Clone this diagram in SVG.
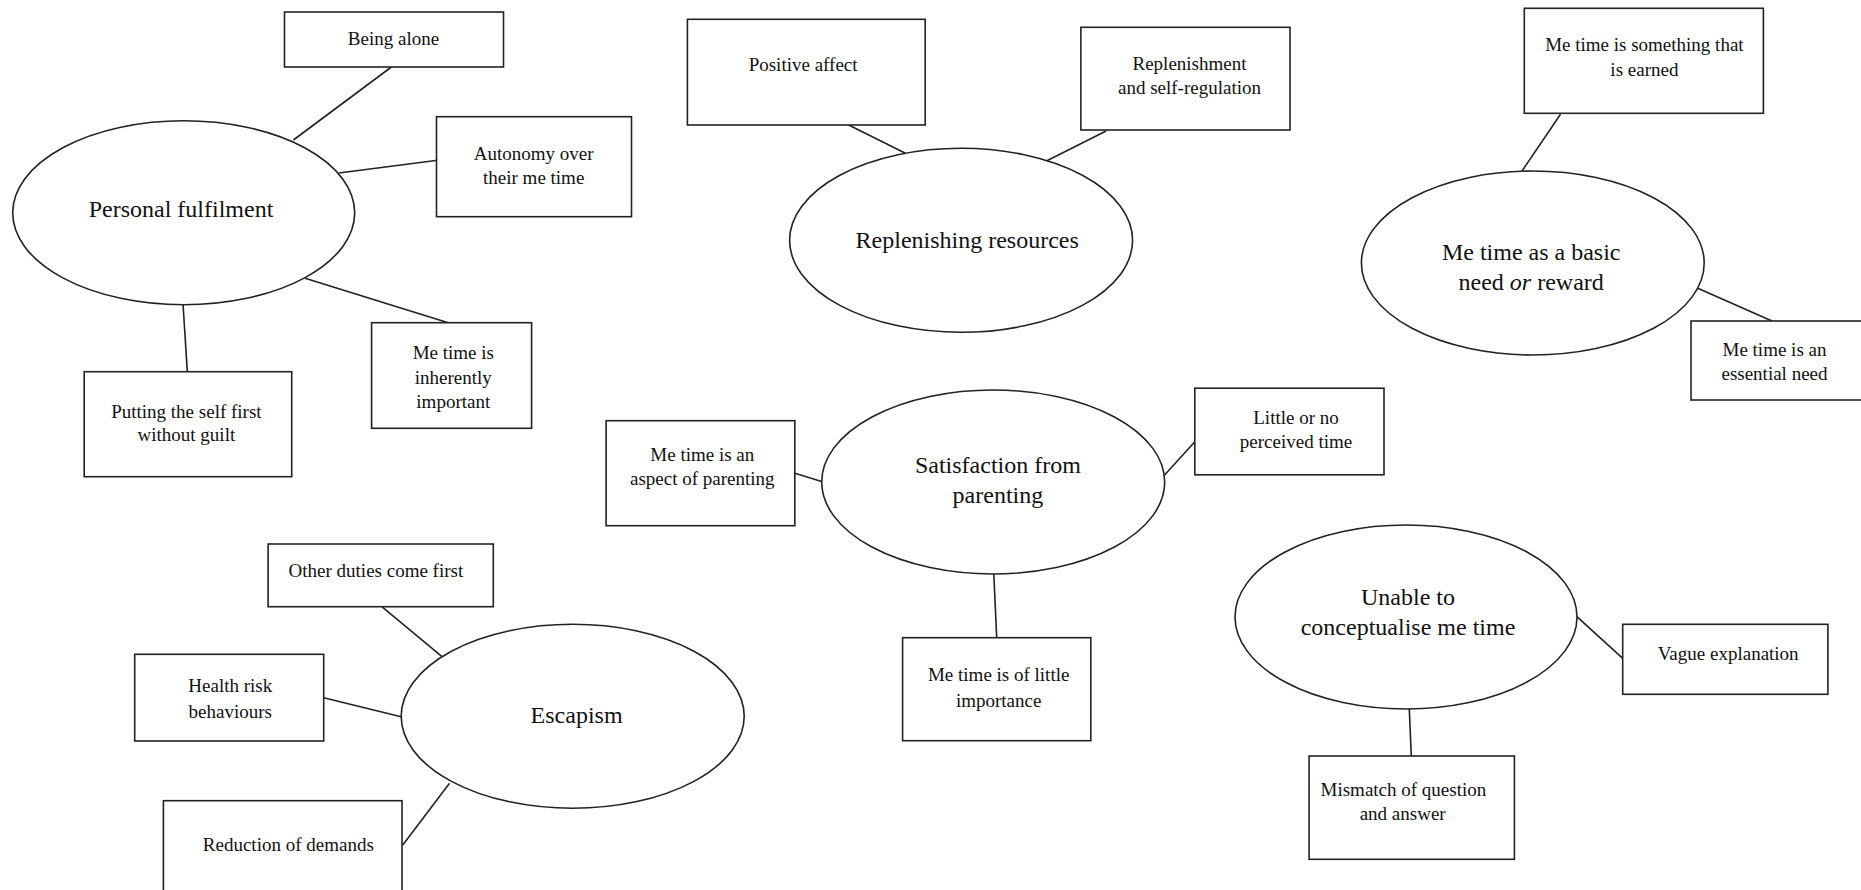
<svg xmlns="http://www.w3.org/2000/svg" width="1861" height="890" viewBox="0 0 1861 890">
<style>
.box{fill:#fff;stroke:#222;stroke-width:1.6}
.ell{fill:#fff;stroke:#222;stroke-width:1.6}
.ln{stroke:#222;stroke-width:1.6;fill:none}
.s{font-family:"Liberation Serif","Times New Roman",serif;font-size:19px;fill:#111;text-anchor:middle}
.b{font-family:"Liberation Serif","Times New Roman",serif;font-size:24px;fill:#111;text-anchor:middle}
</style>
<rect width="1861" height="890" fill="#fff"/>
<g id="connectors">
<line class="ln" x1="391.4" y1="67" x2="293.4" y2="140"/>
<line class="ln" x1="437.7" y1="160.3" x2="338.8" y2="173"/>
<line class="ln" x1="448.2" y1="322.7" x2="305.1" y2="278.3"/>
<line class="ln" x1="183.1" y1="305" x2="187.3" y2="371.7"/>
<line class="ln" x1="845.2" y1="123.3" x2="905.4" y2="153.3"/>
<line class="ln" x1="1106.1" y1="131" x2="1046.4" y2="161"/>
<line class="ln" x1="1560.5" y1="114.3" x2="1521.2" y2="172.3"/>
<line class="ln" x1="1697.8" y1="288.3" x2="1772" y2="321"/>
<line class="ln" x1="794.8" y1="473.3" x2="822.5" y2="481.7"/>
<line class="ln" x1="1164.6" y1="475" x2="1194.8" y2="441.7"/>
<line class="ln" x1="993.8" y1="574" x2="996.7" y2="637.7"/>
<line class="ln" x1="381.8" y1="606.7" x2="442" y2="656.7"/>
<line class="ln" x1="323.7" y1="697.7" x2="401.1" y2="716.7"/>
<line class="ln" x1="449.5" y1="783.3" x2="402.8" y2="845"/>
<line class="ln" x1="1576.9" y1="616.7" x2="1622.7" y2="658.3"/>
<line class="ln" x1="1409.3" y1="709" x2="1411.3" y2="756"/>
</g>
<g id="personal-fulfilment">
<ellipse class="ell" cx="183.7" cy="212.8" rx="171" ry="92"/>
<text class="b" x="181" y="217">Personal fulfilment</text>
</g>
<g id="being-alone">
<rect class="box" x="284.5" y="12" width="219" height="55"/>
<text class="s" x="393.5" y="45">Being alone</text>
</g>
<g id="autonomy">
<rect class="box" x="436.5" y="116.7" width="195" height="100"/>
<text class="s" x="533.7" y="160">Autonomy over</text>
<text class="s" x="533.7" y="184">their me time</text>
</g>
<g id="inherently-important">
<rect class="box" x="371.6" y="322.7" width="160" height="105.6"/>
<text class="s" x="453.3" y="359">Me time is</text>
<text class="s" x="453.3" y="384">inherently</text>
<text class="s" x="453.3" y="408">important</text>
</g>
<g id="putting-self-first">
<rect class="box" x="84.2" y="371.7" width="207.5" height="105"/>
<text class="s" x="186.4" y="418">Putting the self first</text>
<text class="s" x="186.4" y="441">without guilt</text>
</g>
<g id="replenishing-resources">
<ellipse class="ell" cx="961.1" cy="240.3" rx="171.5" ry="92"/>
<text class="b" x="967.2" y="248">Replenishing resources</text>
</g>
<g id="positive-affect">
<rect class="box" x="687.4" y="19.3" width="237.8" height="105.7"/>
<text class="s" x="803.1" y="71">Positive affect</text>
</g>
<g id="replenishment">
<rect class="box" x="1080.9" y="27.3" width="209.1" height="102.7"/>
<text class="s" x="1189.5" y="70">Replenishment</text>
<text class="s" x="1189.5" y="94">and self-regulation</text>
</g>
<g id="basic-need">
<ellipse class="ell" cx="1532.8" cy="263" rx="171.4" ry="92"/>
<text class="b" x="1531.2" y="260">Me time as a basic</text>
<text class="b" x="1531.2" y="290">need <tspan font-style="italic">or</tspan> reward</text>
</g>
<g id="earned">
<rect class="box" x="1524.3" y="8.3" width="239.1" height="105"/>
<text class="s" x="1644.4" y="51">Me time is something that</text>
<text class="s" x="1644.4" y="76">is earned</text>
</g>
<g id="essential-need">
<rect class="box" x="1691" y="321" width="175" height="79"/>
<text class="s" x="1774.5" y="356">Me time is an</text>
<text class="s" x="1774.5" y="380">essential need</text>
</g>
<g id="satisfaction">
<ellipse class="ell" cx="993.2" cy="482" rx="171.5" ry="92"/>
<text class="b" x="997.9" y="473">Satisfaction from</text>
<text class="b" x="997.9" y="503">parenting</text>
</g>
<g id="aspect-of-parenting">
<rect class="box" x="606.1" y="420.7" width="188.7" height="105"/>
<text class="s" x="702.3" y="461">Me time is an</text>
<text class="s" x="702.3" y="485">aspect of parenting</text>
</g>
<g id="little-time">
<rect class="box" x="1194.8" y="388.2" width="189.2" height="86.6"/>
<text class="s" x="1296" y="424">Little or no</text>
<text class="s" x="1296" y="448">perceived time</text>
</g>
<g id="little-importance">
<rect class="box" x="902.6" y="637.7" width="188.2" height="103"/>
<text class="s" x="998.7" y="681">Me time is of little</text>
<text class="s" x="998.7" y="707">importance</text>
</g>
<g id="escapism">
<ellipse class="ell" cx="572.7" cy="716.3" rx="171.5" ry="92"/>
<text class="b" x="576.6" y="723">Escapism</text>
</g>
<g id="other-duties">
<rect class="box" x="268.1" y="544" width="225.2" height="62.7"/>
<text class="s" x="375.9" y="577">Other duties come first</text>
</g>
<g id="health-risk">
<rect class="box" x="134.7" y="654.3" width="189" height="86.7"/>
<text class="s" x="230.3" y="692">Health risk</text>
<text class="s" x="230.3" y="718">behaviours</text>
</g>
<g id="reduction-of-demands">
<rect class="box" x="163.4" y="800.7" width="238.6" height="100"/>
<text class="s" x="288.3" y="851">Reduction of demands</text>
</g>
<g id="unable-to-conceptualise">
<ellipse class="ell" cx="1406" cy="617" rx="171" ry="92"/>
<text class="b" x="1408" y="605">Unable to</text>
<text class="b" x="1408" y="635">conceptualise me time</text>
</g>
<g id="vague-explanation">
<rect class="box" x="1622.7" y="624.3" width="205.2" height="70"/>
<text class="s" x="1728.2" y="660">Vague explanation</text>
</g>
<g id="mismatch">
<rect class="box" x="1309.1" y="756" width="205.3" height="103.3"/>
<text class="s" x="1403.4" y="796">Mismatch of question</text>
<text class="s" x="1402.7" y="820">and answer</text>
</g>
</svg>
